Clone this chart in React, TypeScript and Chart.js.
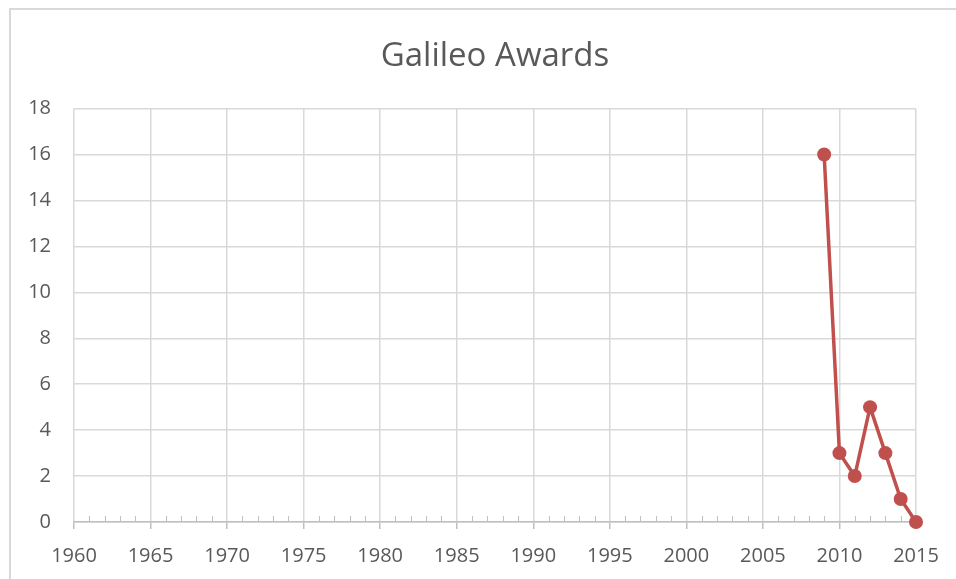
import React, { useEffect, useRef } from "react";
import { Chart, registerables } from "chart.js";

Chart.register(...registerables);

const years = [2009, 2010, 2011, 2012, 2013, 2014, 2015];
const awards = [16, 3, 2, 5, 3, 1, 0];
const xMin = 1960;
const xMax = 2015;
const xStep = 5;
const yMin = 0;
const yMax = 18;
const yStep = 2;
const titleText = "Galileo Awards";

const minorTicks = {
  id: "minorTicks",
  beforeDatasetsDraw(chart: any) {
    const x = chart.scales.x;
    const { ctx, chartArea } = chart;
    ctx.save();
    ctx.strokeStyle = "#bfbfbf";
    ctx.lineWidth = 1;
    for (let yr = xMin; yr <= xMax; yr++) {
      if (yr % xStep === 0) continue;
      const px = Math.round(x.getPixelForValue(yr)) + 0.5;
      ctx.beginPath();
      ctx.moveTo(px, chartArea.bottom);
      ctx.lineTo(px, chartArea.bottom - 6);
      ctx.stroke();
    }
    ctx.restore();
  },
};

export default function App() {
  const ref = useRef<HTMLCanvasElement>(null);
  useEffect(() => {
    document.body.style.margin = "0";
    const font = "'Open Sans', 'Liberation Sans', sans-serif";
    const chart = new Chart(ref.current!, {
      type: "line",
      data: {
        datasets: [
          {
            data: years.map((y, i) => ({ x: y, y: awards[i] })),
            borderColor: "#c0504d",
            backgroundColor: "#c0504d",
            borderWidth: 3.5,
            pointRadius: 7,
            pointBorderWidth: 0,
            pointBackgroundColor: "#c0504d",
            pointBorderColor: "#c0504d",
            tension: 0,
            clip: false,
          },
        ],
      },
      options: {
        animation: false,
        responsive: false,
        layout: { padding: { left: 0, right: 40, top: 0, bottom: 0 } },
        plugins: {
          legend: { display: false },
          tooltip: { enabled: false },
          title: {
            display: true,
            fullSize: false,
            text: titleText,
            color: "#595959",
            font: { family: font, size: 33, weight: "normal" },
            padding: { top: 37, bottom: 32 },
          },
        },
        scales: {
          x: {
            type: "linear",
            min: xMin,
            max: xMax,
            ticks: {
              stepSize: xStep,
              color: "#595959",
              font: { family: font, size: 20 },
              padding: 15,
              callback: (v: any) => String(v),
              maxRotation: 0,
            },
            grid: {
              color: "#d9d9d9",
              lineWidth: 1.5,
              drawTicks: true,
              tickLength: 7,
              tickColor: "#bfbfbf",
            },
            border: { color: "#bfbfbf", width: 1.5 },
            afterFit: (s: any) => {
              s.height = 57;
            },
          },
          y: {
            min: yMin,
            max: yMax,
            ticks: {
              stepSize: yStep,
              color: "#595959",
              font: { family: font, size: 20 },
              padding: 23,
            },
            grid: { color: "#d9d9d9", lineWidth: 1.5, drawTicks: false },
            border: { display: false },
            afterFit: (s: any) => {
              s.width = 74;
            },
          },
        },
      },
      plugins: [minorTicks],
    });
    return () => chart.destroy();
  }, []);
  return (
    <div style={{ position: "relative", width: 956, height: 579, background: "#fff", overflow: "hidden" }}>
      <div
        style={{
          position: "absolute",
          left: 9,
          top: 8,
          width: 960,
          height: 600,
          borderLeft: "2px solid #d9d9d9",
          borderTop: "2px solid #d9d9d9",
        }}
      />
      <canvas ref={ref} width={956} height={579} style={{ position: "absolute", left: 0, top: 0 }} />
    </div>
  );
}
